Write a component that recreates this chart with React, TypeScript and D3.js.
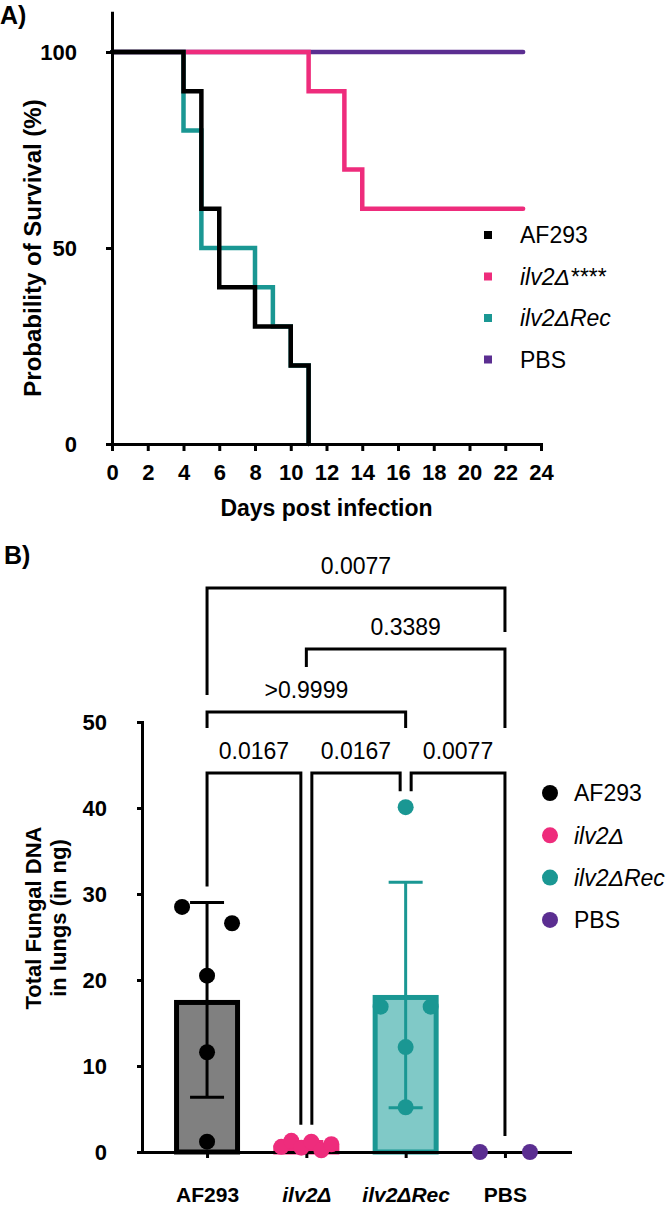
import React, { useEffect, useRef } from 'react';
import * as d3 from 'd3';

// A) survival: day of each event and % of mice still alive after it
const af293Days = [0, 4, 5, 6, 8, 10, 11];
const af293Survival = [100, 90, 60, 40, 30, 20, 0];
const ilv2Days = [0, 11, 13, 14, 23];
const ilv2Survival = [100, 90, 70, 60, 60];
const ilv2RecDays = [0, 4, 5, 8, 9, 10, 11];
const ilv2RecSurvival = [100, 80, 50, 40, 30, 20, 0];
const pbsDays = [0, 23];
const pbsSurvival = [100, 100];
const survivalLegend = ['AF293', 'ilv2Δ****', 'ilv2ΔRec', 'PBS'];
const dayTicks = [0, 2, 4, 6, 8, 10, 12, 14, 16, 18, 20, 22, 24];
const survivalTicks = [0, 50, 100];

// B) total fungal DNA per mouse (ng)
const groups = ['AF293', 'ilv2Δ', 'ilv2ΔRec', 'PBS'];
const groupItalic = [false, true, true, false];
const af293Burden = [28.5, 26.6, 20.5, 11.6, 1.2];
const ilv2Burden = [0.6, 1.3, 0.5, 1.2, 0.2, 0.9];
const ilv2RecBurden = [16.9, 16.9, 40.1, 12.2, 5.2];
const pbsBurden = [0, 0];
const burdenTicks = [0, 10, 20, 30, 40, 50];

// multiple comparisons shown as brackets
const comparisonPairs = [
  ['AF293', 'ilv2Δ'],
  ['ilv2Δ', 'ilv2ΔRec'],
  ['ilv2ΔRec', 'PBS'],
  ['AF293', 'ilv2ΔRec'],
  ['ilv2Δ', 'PBS'],
  ['AF293', 'PBS'],
];
const comparisonP = ['0.0167', '0.0167', '0.0077', '>0.9999', '0.3389', '0.0077'];

const FONT = '"Liberation Sans", Arial, Helvetica, sans-serif';
const BLACK = '#000000';
const PINK = '#ee2c7c';
const TEAL = '#1a9793';
const PURPLE = '#5b2e91';

// points with close values sit side by side, spread across the bar
function spreadOffsets(values: number[], closeness = 3, halfWidth = 25) {
  const order = d3.range(values.length).sort((a, b) => values[a] - values[b]);
  const clusters: number[][] = [];
  order.forEach(i => {
    const last = clusters[clusters.length - 1];
    if (last && values[i] - values[last[last.length - 1]] < closeness) last.push(i);
    else clusters.push([i]);
  });
  const offsets = values.map(() => 0);
  clusters.forEach(c => {
    if (c.length < 2) return;
    const members = [...c].sort((a, b) => a - b);
    const pos = d3.scaleLinear().domain([0, members.length - 1]).range([-halfWidth, halfWidth]);
    members.forEach((idx, k) => (offsets[idx] = pos(k)));
  });
  return offsets;
}

const App = () => {
  const svgRef = useRef<SVGSVGElement>(null);

  useEffect(() => {
    const svg = d3.select(svgRef.current);
    svg.selectAll('*').remove();
    svg.attr('font-family', FONT);

    // ---------- A) survival ----------
    const xA = d3.scaleLinear().domain([0, 24]).range([112, 541]);
    const yA = d3.scaleLinear().domain([0, 110]).range([444, 12.8]);

    svg.append('text').attr('x', 0).attr('y', 24)
      .attr('font-size', 25).attr('font-weight', 'bold').text('A)');

    const line = d3.line<[number, number]>()
      .x(d => xA(d[0]))
      .y(d => yA(d[1]))
      .curve(d3.curveStepAfter);

    const survivalSeries = [
      { days: pbsDays, surv: pbsSurvival, color: PURPLE },
      { days: ilv2Days, surv: ilv2Survival, color: PINK },
      { days: ilv2RecDays, surv: ilv2RecSurvival, color: TEAL },
      { days: af293Days, surv: af293Survival, color: BLACK },
    ];
    survivalSeries.forEach(s => {
      svg.append('path')
        .datum(s.days.map((d, i) => [d, s.surv[i]] as [number, number]))
        .attr('fill', 'none')
        .attr('stroke', s.color)
        .attr('stroke-width', 4.5)
        .attr('stroke-linecap', 'round')
        .attr('stroke-linejoin', 'miter')
        .attr('d', line);
    });

    const axA = svg.append('g').attr('transform', 'translate(112,0)')
      .call(d3.axisLeft(yA).tickValues(survivalTicks).tickSize(6).tickSizeOuter(0).tickPadding(29));
    const axAx = svg.append('g').attr('transform', 'translate(0,444)')
      .call(d3.axisBottom(xA).tickValues(dayTicks).tickSize(7).tickSizeOuter(0).tickPadding(13));
    [axA, axAx].forEach(g => {
      g.selectAll('path.domain').attr('stroke-width', 3).attr('stroke-linecap', 'square');
      g.selectAll('.tick line').attr('stroke-width', 3);
      g.selectAll('text').attr('font-size', 22).attr('font-weight', 'bold')
        .attr('font-family', FONT).attr('fill', BLACK);
    });

    svg.append('text')
      .attr('x', (xA(0) + xA(24)) / 2).attr('y', 516)
      .attr('text-anchor', 'middle').attr('font-size', 23).attr('font-weight', 'bold')
      .text('Days post infection');

    svg.append('text')
      .attr('transform', `translate(41,${yA(50)}) rotate(-90)`)
      .attr('text-anchor', 'middle').attr('font-size', 24).attr('font-weight', 'bold')
      .text('Probability of Survival (%)');

    const legA = svg.append('g');
    const legendColorsA = [BLACK, PINK, TEAL, PURPLE];
    survivalLegend.forEach((name, i) => {
      const cy = 235 + i * 41.5;
      legA.append('rect').attr('x', 484).attr('y', cy - 4).attr('width', 8).attr('height', 8)
        .attr('fill', legendColorsA[i]);
      legA.append('text').attr('x', 520).attr('y', cy).attr('dy', '0.36em')
        .attr('font-size', 23).attr('font-style', i === 1 || i === 2 ? 'italic' : 'normal')
        .text(name);
    });

    // ---------- B) fungal burden ----------
    const xB = d3.scalePoint<string>().domain(groups).range([142, 570]).padding(0.655);
    const yB = d3.scaleLinear().domain([0, 50]).range([1152, 722]);

    svg.append('text').attr('x', 4).attr('y', 564)
      .attr('font-size', 25).attr('font-weight', 'bold').text('B)');

    const burden = [
      { values: af293Burden, dot: BLACK, fill: '#808080', stroke: BLACK },
      { values: ilv2Burden, dot: PINK, fill: '#f59bbd', stroke: PINK },
      { values: ilv2RecBurden, dot: TEAL, fill: '#80c9c7', stroke: TEAL },
      { values: pbsBurden, dot: PURPLE, fill: '#b9a3d6', stroke: PURPLE },
    ];
    const barWidth = 66;
    const barStroke = 5;
    const stats = burden.map(b => {
      const m = d3.mean(b.values) ?? 0;
      const s = b.values.length > 1 ? d3.deviation(b.values) ?? 0 : 0;
      return { mean: m, sd: s, top: Math.max(m + s, d3.max(b.values) ?? 0) };
    });

    const plotB = svg.append('g');
    burden.forEach((b, i) => {
      const cx = xB(groups[i])!;
      const { mean, sd } = stats[i];
      const h = yB(0) - yB(mean) - barStroke / 2;
      if (h > 0) {
        plotB.append('rect')
          .attr('x', cx - barWidth / 2 + barStroke / 2)
          .attr('y', yB(mean) + barStroke / 2)
          .attr('width', barWidth - barStroke)
          .attr('height', h)
          .attr('fill', b.fill).attr('stroke', b.stroke).attr('stroke-width', barStroke);
      }
      if (sd > 0) {
        const eb = plotB.append('g').attr('stroke', b.stroke).attr('stroke-width', 3);
        eb.append('line').attr('x1', cx).attr('x2', cx).attr('y1', yB(mean - sd)).attr('y2', yB(mean + sd));
        [mean - sd, mean + sd].forEach(v => {
          eb.append('line').attr('x1', cx - 17).attr('x2', cx + 17).attr('y1', yB(v)).attr('y2', yB(v));
        });
      }
    });

    const axB = svg.append('g').attr('transform', 'translate(142,0)')
      .call(d3.axisLeft(yB).tickValues(burdenTicks).tickSize(5).tickSizeOuter(0).tickPadding(30));
    const axBx = svg.append('g').attr('transform', 'translate(0,1152)')
      .call(d3.axisBottom(xB).tickSize(6).tickSizeOuter(0).tickPadding(29));
    [axB, axBx].forEach(g => {
      g.selectAll('path.domain').attr('stroke-width', 3).attr('stroke-linecap', 'square');
      g.selectAll('.tick line').attr('stroke-width', 3);
      g.selectAll('text').attr('font-size', 22).attr('font-weight', 'bold')
        .attr('font-family', FONT).attr('fill', BLACK);
    });
    axBx.selectAll<SVGTextElement, string>('.tick text')
      .attr('font-size', 21)
      .attr('font-style', d => (groupItalic[groups.indexOf(d)] ? 'italic' : 'normal'));

    // individual mice
    burden.forEach((b, i) => {
      const cx = xB(groups[i])!;
      const offs = spreadOffsets(b.values);
      svg.append('g').selectAll('circle').data(b.values).join('circle')
        .attr('cx', (_, k) => cx + offs[k])
        .attr('cy', d => yB(d))
        .attr('r', 8)
        .attr('fill', b.dot);
    });

    const ylab = svg.append('text')
      .attr('transform', `translate(0,${918}) rotate(-90)`)
      .attr('text-anchor', 'middle').attr('font-size', 22).attr('font-weight', 'bold');
    ylab.append('tspan').attr('x', 0).attr('y', 41).text('Total Fungal DNA');
    ylab.append('tspan').attr('x', 0).attr('y', 66).text('in lungs (in ng)');

    // significance brackets
    const rowY = [773, 712, 649, 588];
    const bracketRow = [0, 0, 0, 1, 2, 3];
    const upperLegs: Record<number, [number, number]> = { 3: [16, 16], 4: [18, 79], 5: [107, 44] };
    const brackets = svg.append('g');
    comparisonPairs.forEach(([a, b], i) => {
      const ia = groups.indexOf(a);
      const ib = groups.indexOf(b);
      const row = bracketRow[i];
      const y = rowY[row];
      let x1 = xB(a)!;
      let x2 = xB(b)!;
      let y1: number;
      let y2: number;
      if (row === 0) {
        if (ia > 0) x1 += 5.5;
        if (ib < groups.length - 1) x2 -= 5.5;
        y1 = yB(stats[ia].top) - 16;
        y2 = yB(stats[ib].top) - 16;
      } else {
        y1 = y + upperLegs[i][0];
        y2 = y + upperLegs[i][1];
      }
      brackets.append('path')
        .attr('d', `M${x1},${y1}V${y}H${x2}V${y2}`)
        .attr('fill', 'none').attr('stroke', BLACK).attr('stroke-width', 3)
        .attr('stroke-linejoin', 'miter');
      brackets.append('text')
        .attr('x', (x1 + x2) / 2).attr('y', y - 14)
        .attr('text-anchor', 'middle').attr('font-size', 23)
        .text(comparisonP[i]);
    });

    const legB = svg.append('g');
    burden.forEach((b, i) => {
      const cy = 793 + i * 42.3;
      legB.append('circle').attr('cx', 550).attr('cy', cy).attr('r', 8).attr('fill', b.dot);
      legB.append('text').attr('x', 574).attr('y', cy).attr('dy', '0.36em')
        .attr('font-size', 23).attr('font-style', groupItalic[i] ? 'italic' : 'normal')
        .text(groups[i]);
    });
  }, []);

  return (
    <svg
      ref={svgRef}
      width={666}
      height={1208}
      style={{ position: 'absolute', left: 0, top: 0, background: '#fff' }}
    />
  );
};

export default App;
